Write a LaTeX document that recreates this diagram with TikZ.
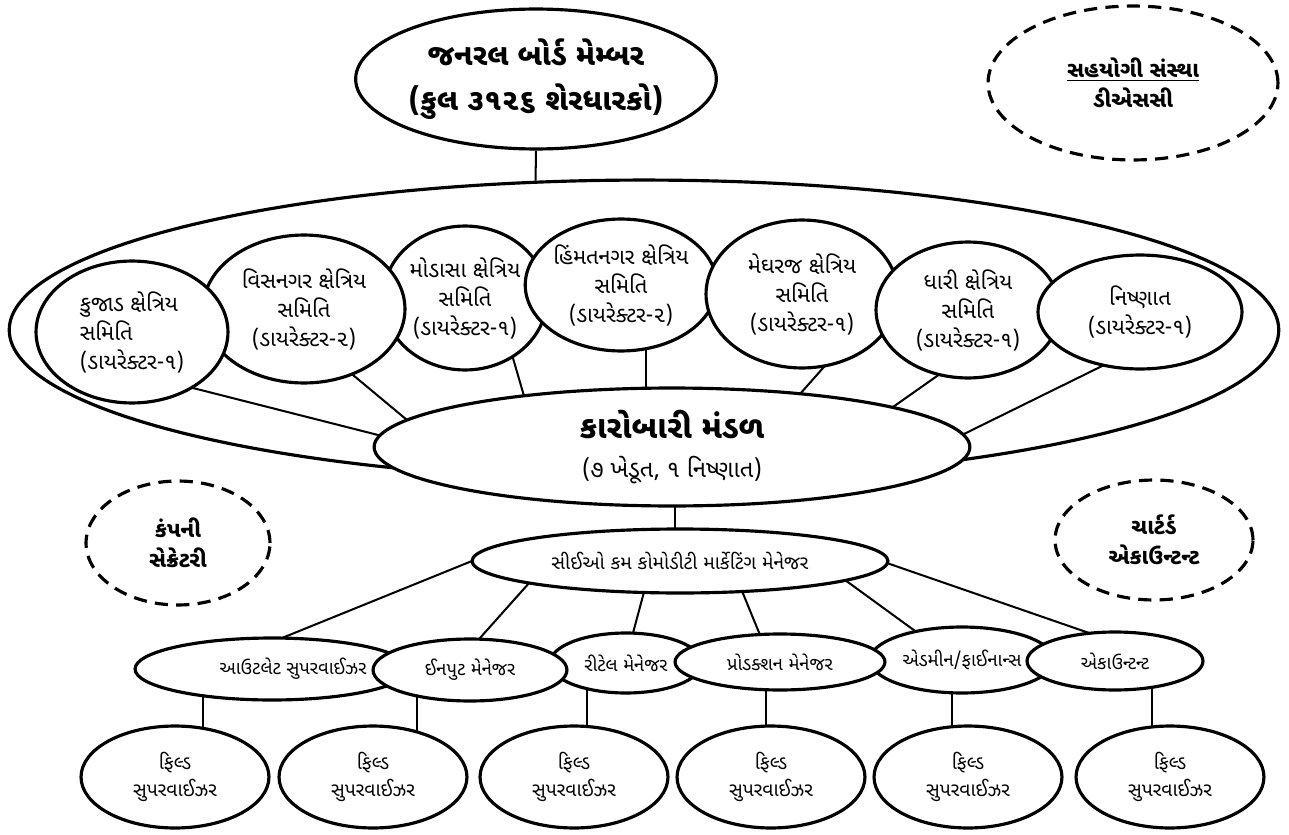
\documentclass[tikz,border=0pt]{standalone}
\usepackage{fontspec}
\newfontfamily\guj[Script=Gujarati]{Noto Sans Gujarati UI}
\usetikzlibrary{shapes.geometric}
\pgfdeclarelayer{bg}
\pgfsetlayers{bg,main}
\begin{document}
\begin{tikzpicture}[x=0.02cm,y=-0.02cm,
  E/.style 2 args={ellipse, draw, fill=white, line width=1.8pt, inner sep=0pt,
    minimum width=#1*0.04cm, minimum height=#2*0.04cm, align=center,
    font=\guj\fontsize{11}{15.5}\selectfont},
  D/.style 2 args={ellipse, draw, dash pattern=on 7.5pt off 4.7pt, line width=1.8pt, inner sep=0pt,
    minimum width=#1*0.04cm, minimum height=#2*0.04cm, align=center,
    font=\guj\bfseries\fontsize{12.5}{17}\selectfont},
  comm/.style={font=\guj\fontsize{12.5}{16.5}\selectfont},
  conn/.style={line width=1.15pt},
  mgr/.style={font=\guj\fontsize{10.5}{14}\selectfont},
]
\useasboundingbox (0,0) rectangle (1289,835);

% outer committee ellipse
\node[E={635}{150}, fill=none] (outer) at (644,330) {};

% general board
\node[E={164}{70}, font=\guj\bfseries\fontsize{17}{25.5}\selectfont] (top) at (536,79)
  {જનરલ બોર્ડ મેમ્બર\\(કુલ ૩૧૨૬ શેરધારકો)};
\node[D={145}{77}] (dtop) at (1133,83) {\underline{સહયોગી સંસ્થા}\\ડીએસસી};

% committees
\node[E={82}{72}, comm] (modasa) at (465,298) {મોડાસા ક્ષેત્રિય\\સમિતિ\\(ડાયરેક્ટર-૧)};
\node[E={101}{74}, comm] (visnagar) at (304,309) {વિસનગર ક્ષેત્રિય\\સમિતિ\\(ડાયરેક્ટર-૨)};
\node[E={96}{71}, comm, align=left] (kujad) at (132,332) {કુજાડ ક્ષેત્રિય\\સમિતિ\\(ડાયરેક્ટર-૧)};
\node[E={90}{66}, comm] (himmat) at (621,285) {હિંમતનગર ક્ષેત્રિય\\સમિતિ\\(ડાયરેક્ટર-૨)};
\node[E={96}{74}, comm] (meghraj) at (802,294) {મેઘરજ ક્ષેત્રિય\\સમિતિ\\(ડાયરેક્ટર-૧)};
\node[E={92}{68}, comm] (dhari) at (968,310) {ધારી ક્ષેત્રિય\\સમિતિ\\(ડાયરેક્ટર-૧)};
\node[E={102}{57}, comm] (nishnat) at (1140,312) {નિષ્ણાત\\(ડાયરેક્ટર-૧)};

% executive board
\node[E={298}{59}, font=\guj\fontsize{13.5}{22}\selectfont] (karobari) at (672,447)
  {{\bfseries\fontsize{18}{22}\selectfont કારોબારી મંડળ}\\(૭ ખેડૂત, ૧ નિષ્ણાત)};

\node[D={92}{62}] (secretary) at (178,543) {કંપની\\સેક્રેટરી};
\node[D={99}{60}] (chartered) at (1154,540) {ચાર્ટર્ડ\\એકાઉન્ટન્ટ};

% CEO
\node[E={208}{32}] (ceo) at (680,561) {સીઈઓ કમ કોમોડીટી માર્કેટિંગ મેનેજર};

% managers
\node[E={137}{31}, label={[mgr, xshift=21*0.02cm]center:આઉટલેટ સુપરવાઈઝર}] (outlet) at (272,669) {};
\node[E={76}{30}, mgr] (retail) at (626,663) {રીટેલ મેનેજર};
\node[E={92}{33}, mgr] (admin) at (962,660) {એડમીન/ફાઈનાન્સ};
\node[E={97}{31}, mgr] (input) at (470,670) {ઈનપુટ મેનેજર};
\node[E={105}{28}, mgr] (production) at (780,662) {પ્રોડક્શન મેનેજર};
\node[E={88}{29}, mgr] (accountant) at (1115,661) {એકાઉન્ટન્ટ};

% field supervisors
\node[E={94}{51}] (fs1) at (175,777) {ફિલ્ડ\\સુપરવાઈઝર};
\node[E={94}{51}] (fs2) at (373,777) {ફિલ્ડ\\સુપરવાઈઝર};
\node[E={94}{51}] (fs3) at (574,777) {ફિલ્ડ\\સુપરવાઈઝર};
\node[E={94}{51}] (fs4) at (771,777) {ફિલ્ડ\\સુપરવાઈઝર};
\node[E={94}{51}] (fs5) at (968,777) {ફિલ્ડ\\સુપરવાઈઝર};
\node[E={94}{51}] (fs6) at (1170,777) {ફિલ્ડ\\સુપરવાઈઝર};

\draw[conn] (top.south) -- (outer.126);

\begin{pgfonlayer}{bg}
% committees -> executive board
\draw[conn] ([shift={(41.6,51.1)}]kujad.center) -- ([shift={(-274.6,-7.1)}]karobari.center);
\draw[conn] ([shift={(33.6,53.2)}]visnagar.center) -- ([shift={(-249.6,-14.2)}]karobari.center);
\draw[conn] ([shift={(44.4,47.8)}]modasa.center) -- ([shift={(-142.4,-31.8)}]karobari.center);
\draw[conn] ([shift={(25,47)}]himmat.center) -- ([shift={(-26,-38)}]karobari.center);
\draw[conn] ([shift={(34.3,59)}]meghraj.center) -- ([shift={(114.7,-38)}]karobari.center);
\draw[conn] ([shift={(-14.6,54.5)}]dhari.center) -- ([shift={(204.6,-28.5)}]karobari.center);
\draw[conn] ([shift={(-24.1,47.2)}]nishnat.center) -- ([shift={(274.1,-4.2)}]karobari.center);
% executive board -> CEO
\draw[conn] ([shift={(3,43)}]karobari.center) -- ([shift={(-5,-16)}]ceo.center);
% CEO -> managers
\draw[conn] ([shift={(-189.5,-7.5)}]ceo.center) -- ([shift={(-8.5,-23.5)}]outlet.center);
\draw[conn] ([shift={(-136.7,6.1)}]ceo.center) -- ([shift={(-3.3,-17.1)}]input.center);
\draw[conn] ([shift={(-30.8,11.7)}]ceo.center) -- ([shift={(1.8,-10.7)}]retail.center);
\draw[conn] ([shift={(54.4,11.5)}]ceo.center) -- ([shift={(-12.4,-8.5)}]production.center);
\draw[conn] ([shift={(148.8,7.2)}]ceo.center) -- ([shift={(-34.8,-20.2)}]admin.center);
\draw[conn] ([shift={(188.1,-4.5)}]ceo.center) -- ([shift={(-7.1,-21.5)}]accountant.center);
% managers -> field supervisors
\draw[conn] ([shift={(-69,21)}]outlet.center) -- ([shift={(28,-32)}]fs1.center);
\draw[conn] ([shift={(-53,15)}]input.center) -- ([shift={(44,-27)}]fs2.center);
\draw[conn] ([shift={(-39,17)}]retail.center) -- ([shift={(13,-27)}]fs3.center);
\draw[conn] ([shift={(-14,16)}]production.center) -- ([shift={(-5,-27)}]fs4.center);
\draw[conn] ([shift={(-10,20)}]admin.center) -- ([shift={(-16,-27)}]fs5.center);
\draw[conn] ([shift={(37,17)}]accountant.center) -- ([shift={(-18,-27)}]fs6.center);
\end{pgfonlayer}
\end{tikzpicture}
\end{document}
